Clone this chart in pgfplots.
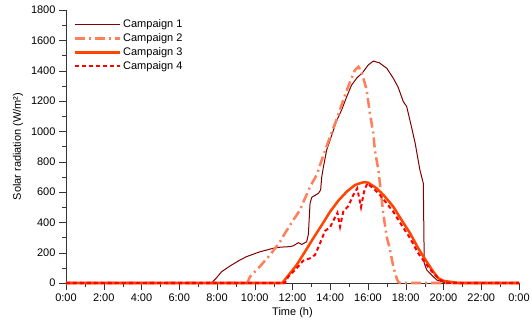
\documentclass[border=0pt]{standalone}
\usepackage{pgfplots}
\pgfplotsset{compat=1.18}
\usepackage{fontspec}
\setmainfont{Liberation Sans}
\definecolor{cA}{RGB}{128,0,0}
\definecolor{cB}{RGB}{255,127,90}
\definecolor{cC}{RGB}{255,69,0}
\definecolor{cD}{RGB}{255,0,0}
\begin{document}
\begin{tikzpicture}
\path[use as bounding box] (-66bp,-42bp) rectangle (466bp,283bp);
\begin{axis}[
  at={(0,0)}, anchor=south west,
  scale only axis, width=453bp, height=273bp,
  xmin=0, xmax=24, ymin=0, ymax=1800,
  axis x line*=bottom, axis y line*=left,
  axis line style={-, black!80},
  tick align=outside,
  major tick length=7bp, minor tick length=4bp,
  tick style={black!80},
  xtick={0,2,...,24},
  xticklabels={0:00,2:00,4:00,6:00,8:00,10:00,12:00,14:00,16:00,18:00,20:00,22:00,0:00},
  minor x tick num=1,
  ytick={0,200,...,1800},
  minor y tick num=1,
  /pgf/number format/assume math mode=true,
  /pgf/number format/1000 sep={},
  font=\fontsize{11bp}{13bp}\selectfont,
  xlabel={Time (h)},
  ylabel={Solar radiation (W/m²)},
  xlabel style={at={(axis description cs:0.5,-0.11)}, anchor=center},
  ylabel style={at={(axis description cs:-0.106,0.5)}, anchor=center},
  legend style={at={(axis description cs:0.0165,0.972)}, anchor=north west, draw=none, fill=none,
    font=\fontsize{11bp}{13bp}\selectfont, row sep=0.5bp, inner sep=0pt},
  legend cell align=left,
  legend image code/.code={\draw[#1] (0bp,0bp) -- (45bp,0bp);},
  clip=false,
]
\addplot[cA, line width=1bp] table {
0 0
7.7 0
7.95 31
8.25 75
8.69 112
9.22 152
9.57 174
10.28 206
10.98 229
11.34 236
11.87 240
12.04 245
12.31 266
12.49 254
12.75 272
12.84 320
12.93 525
13.02 565
13.37 591
13.49 613
13.55 700
13.63 760
13.81 877
14.08 975
14.34 1070
14.6 1140
14.87 1228
15.13 1305
15.4 1350
15.75 1393
16.01 1437
16.28 1463
16.6 1452
17.0 1415
17.34 1350
17.6 1290
17.87 1196
18.05 1163
18.3 1031
18.5 921
18.75 745
18.93 657
18.98 130
19.11 86
19.37 53
19.64 20
20.0 5
20.3 0
24 0
};
\addlegendentry{Campaign 1}
\addplot[cB, line width=2.5bp, dash pattern=on 10bp off 4bp on 2bp off 4bp] table {
0 0
9.6 0
9.75 42
10.28 110
10.81 185
11.34 272
11.6 328
12.04 415
12.4 481
12.66 558
12.93 635
13.28 712
13.55 811
13.99 964
14.34 1080
14.78 1239
15.05 1327
15.31 1404
15.49 1426
15.66 1393
15.93 1272
16.1 1119
16.28 987
16.37 870
16.55 745
16.72 558
16.81 459
16.99 305
17.17 217
17.34 108
17.52 31
17.6 8
17.7 0
24 0
};
\addlegendentry{Campaign 2}
\addplot[cC, line width=2.5bp] table {
0 0
11.45 0
11.51 8
11.87 64
12.22 119
12.66 206
13.1 295
13.55 382
13.99 470
14.43 543
14.87 602
15.31 646
15.66 661
15.84 665
16.02 661
16.46 624
16.9 569
17.34 503
17.78 415
18.23 328
18.66 229
19.11 140
19.46 74
19.73 31
19.99 15
20.34 8
20.8 0
24 0
};
\addlegendentry{Campaign 3}
\addplot[cD, line width=2bp, dash pattern=on 4bp off 3bp] table {
0 0
11.6 0
11.78 42
12.22 97
12.57 147
12.93 163
13.19 185
13.42 250
13.72 343
13.99 367
14.2 420
14.38 463
14.52 371
14.69 470
14.96 508
15.22 580
15.43 624
15.63 500
15.79 602
15.96 657
16.28 624
16.64 580
16.99 525
17.34 470
17.78 382
18.23 295
18.66 196
19.11 119
19.46 64
19.81 20
20.2 0
24 0
};
\addlegendentry{Campaign 4}
\end{axis}
\end{tikzpicture}
\end{document}
